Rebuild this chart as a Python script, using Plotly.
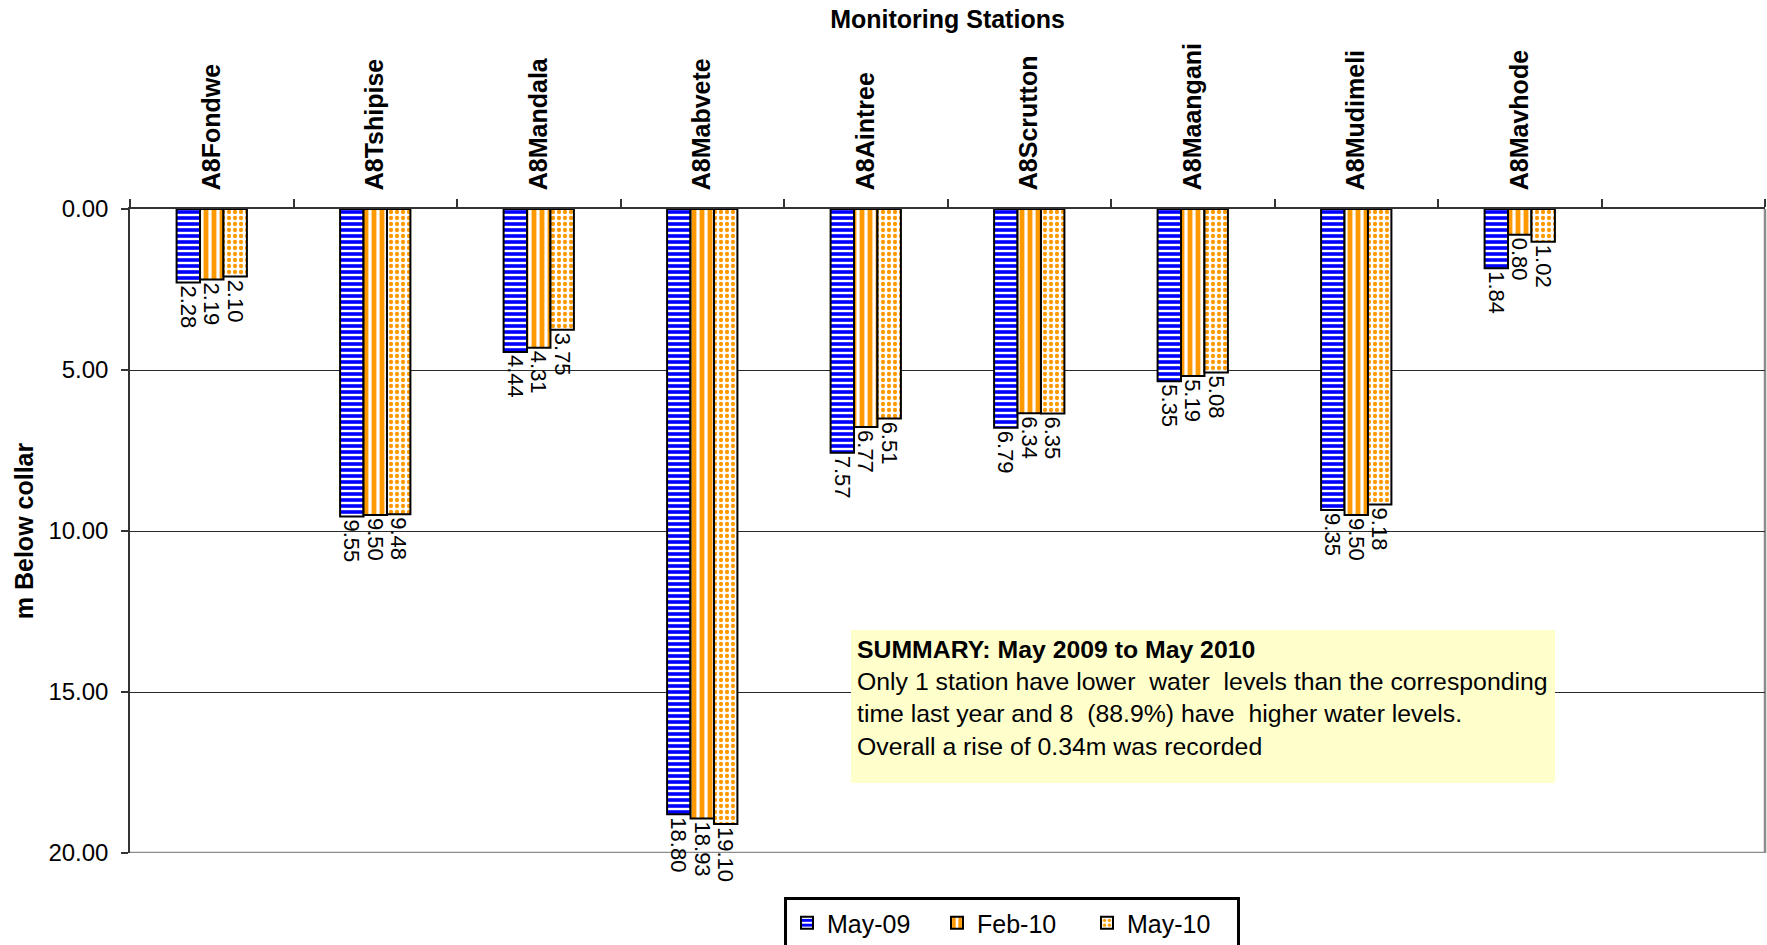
import plotly.graph_objects as go

stations = ["A8Fondwe", "A8Tshipise", "A8Mandala", "A8Mabvete", "A8Aintree",
            "A8Scrutton", "A8Maangani", "A8Mudimeli", "A8Mavhode", " "]
may09 = [2.28, 9.55, 4.44, 18.80, 7.57, 6.79, 5.35, 9.35, 1.84, None]
feb10 = [2.19, 9.50, 4.31, 18.93, 6.77, 6.34, 5.19, 9.50, 0.80, None]
may10 = [2.10, 9.48, 3.75, 19.10, 6.51, 6.35, 5.08, 9.18, 1.02, None]
series_names = ["May-09", "Feb-10", "May-10"]
y_ticks = [0, 5, 10, 15, 20]

summary_title = "SUMMARY: May 2009 to May 2010"
summary_lines = [
    "Only 1 station have lower  water  levels than the corresponding",
    "time last year and 8  (88.9%) have  higher water levels.",
    "Overall a rise of 0.34m was recorded",
]

FONT = "Liberation Sans, Arial, Helvetica, sans-serif"
W, H = 1767, 945
ML, MR, MT, MB = 130, 2, 209, 92
PW = W - ML - MR
PH = H - MT - MB

def px_x(px):
    return (px - ML) / PW

def px_y(py):
    return (H - MB - py) / PH

styles = [
    dict(color="#0000FF", shape="-", size=6, solidity=0.6),
    dict(color="#FF9900", shape="|", size=8, solidity=0.6),
    dict(color="#FF9900", shape=".", size=6, solidity=0.4),
]

fig = go.Figure()
for name, vals, st in zip(series_names, [may09, feb10, may10], styles):
    fig.add_trace(go.Bar(
        name=name, x=stations, y=vals,
        marker=dict(
            color=st["color"],
            line=dict(color="black", width=2),
            pattern=dict(shape=st["shape"], fgcolor=st["color"], bgcolor="white",
                         size=st["size"], solidity=st["solidity"], fillmode="replace",
                         fgopacity=1),
        ),
        texttemplate="%{y:.2f}",
        textposition="outside",
        textangle=90,
        constraintext="none",
        cliponaxis=False,
        textfont=dict(family=FONT, size=22, color="black"),
    ))

fig.update_layout(
    width=W, height=H,
    margin=dict(l=ML, r=MR, t=MT, b=MB, autoexpand=False),
    paper_bgcolor="white", plot_bgcolor="white",
    font=dict(family=FONT, color="black", size=24),
    barmode="group",
    bargap=0.57, bargroupgap=0.0,
    title=dict(text="Monitoring Stations", x=0.5, xref="paper", xanchor="center",
               y=1 - 19 / H, yref="container", yanchor="middle",
               font=dict(family=FONT, size=25, weight="bold", color="black")),
    showlegend=True,
    legend=dict(orientation="h", x=px_x(1012), y=px_y(897), xanchor="center", yanchor="top",
                bgcolor="white", bordercolor="black", borderwidth=3,
                font=dict(family=FONT, size=25, color="black"),
                entrywidth=105, entrywidthmode="pixels",
                traceorder="normal"),
)

fig.update_xaxes(
    side="top", type="category",
    categoryorder="array", categoryarray=stations,
    range=[-0.5, len(stations) - 0.5],
    tickangle=-90,
    tickfont=dict(family=FONT, size=25, weight="bold", color="black"),
    ticks="outside", tickson="boundaries", ticklen=8, tickwidth=1.5, tickcolor="#333333",
    showline=True, linecolor="#333333", linewidth=1.5,
    showgrid=False, zeroline=False,
    ticklabelstandoff=12,
)

fig.update_yaxes(
    range=[20, 0],
    tickvals=y_ticks, tickformat=".2f",
    tickfont=dict(family=FONT, size=24, color="black"),
    ticks="outside", ticklen=7, tickwidth=1.5, tickcolor="#333333",
    showline=True, linecolor="#333333", linewidth=1.5,
    showgrid=True, gridcolor="#2a2a2a", gridwidth=1,
    zeroline=False,
    ticklabelstandoff=8,
    title=dict(text="m Below collar", standoff=8,
               font=dict(family=FONT, size=25, weight="bold", color="black")),
)

# grey plot-area border on the bottom and right sides
fig.add_shape(type="line", xref="paper", yref="y", x0=0, x1=1,
              y0=y_ticks[-1], y1=y_ticks[-1],
              line=dict(color="#8c8c8c", width=2.5), layer="below")
fig.add_shape(type="line", xref="paper", yref="paper", x0=1, x1=1, y0=0, y1=1,
              line=dict(color="#8c8c8c", width=2.5), layer="below")

box_l, box_t, box_r, box_b = 851, 630, 1555, 783
pad = 6
fig.add_annotation(
    xref="paper", yref="paper",
    x=px_x(box_l), y=px_y(box_t), xanchor="left", yanchor="top",
    width=box_r - box_l - 2 * pad, height=box_b - box_t - 2 * pad,
    align="left", valign="top",
    bgcolor="#FFFFCC", borderpad=pad, borderwidth=0,
    showarrow=False,
    text="<b>" + summary_title + "</b><br>" + "<br>".join(summary_lines),
    font=dict(family=FONT, size=24.8, color="black"),
)

fig.write_html("out.html", config={"displayModeBar": False},
               post_script="document.body.style.margin='0';document.body.style.overflow='hidden';")
